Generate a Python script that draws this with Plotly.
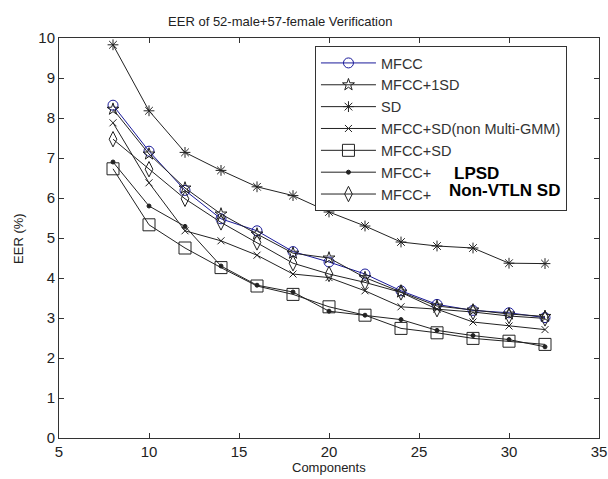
import plotly.graph_objects as go

components = [8, 10, 12, 14, 16, 18, 20, 22, 24, 26, 28, 30, 32]

mfcc = [8.32, 7.17, 6.19, 5.48, 5.18, 4.66, 4.40, 4.10, 3.68, 3.34, 3.19, 3.13, 3.01]
mfcc_1sd = [8.22, 7.10, 6.25, 5.60, 5.10, 4.62, 4.50, 4.01, 3.65, 3.30, 3.20, 3.10, 3.04]
sd = [9.83, 8.18, 7.14, 6.69, 6.28, 6.06, 5.65, 5.30, 4.90, 4.80, 4.75, 4.37, 4.36]
mfcc_sd_non = [7.88, 6.38, 5.18, 4.93, 4.57, 4.10, 4.01, 3.68, 3.28, 3.22, 2.90, 2.80, 2.71]
mfcc_sd = [6.73, 5.33, 4.75, 4.26, 3.80, 3.59, 3.28, 3.07, 2.74, 2.63, 2.49, 2.42, 2.34]
mfcc_lpsd = [6.90, 5.80, 5.29, 4.30, 3.82, 3.65, 3.17, 3.07, 2.96, 2.69, 2.56, 2.46, 2.28]
mfcc_nonvtln = [7.47, 6.72, 5.98, 5.39, 4.89, 4.37, 4.10, 3.89, 3.64, 3.22, 3.15, 3.05, 2.99]

title = "EER of 52-male+57-female Verification"
x_label = "Components"
y_label = "EER (%)"
x_ticks = [5, 10, 15, 20, 25, 30, 35]
y_ticks = list(range(0, 11))

BLK = "#222222"
series = [
    ("MFCC", mfcc, "#1a1a9a", "circle-open", 10),
    ("MFCC+1SD", mfcc_1sd, BLK, "star-open", 9),
    ("SD", sd, BLK, "asterisk-open", 9),
    ("MFCC+SD(non Multi-GMM)", mfcc_sd_non, BLK, "x-thin-open", 7),
    ("MFCC+SD", mfcc_sd, BLK, "square-open", 12),
    ("MFCC+", mfcc_lpsd, BLK, "circle", 4),
    ("MFCC+ ", mfcc_nonvtln, BLK, "diamond-tall-open", 11),
]

fig = go.Figure()
for name, ys, col, sym, sz in series:
    fig.add_trace(go.Scatter(
        x=components, y=ys, name=name, mode="lines+markers",
        line=dict(color=col, width=1),
        marker=dict(symbol=sym, size=sz, color=col, line=dict(color=col, width=1)),
    ))

fig.update_layout(
    width=608, height=479,
    paper_bgcolor="white", plot_bgcolor="white",
    margin=dict(l=59, r=9, t=38, b=41, autoexpand=False),
    font=dict(family="Liberation Sans, Arial", size=15, color="#222"),
    title=dict(text=title, x=0.461, xanchor="center", y=0.956, yanchor="middle",
               font=dict(size=13, color="#222")),
    showlegend=True,
    legend=dict(x=0.474, y=0.98, xanchor="left", yanchor="top",
                bgcolor="white", bordercolor="#333", borderwidth=1,
                font=dict(size=14.5, color="#333"), itemwidth=55,
                tracegroupgap=0),
)
fig.update_xaxes(range=[5, 35], tickvals=x_ticks, ticks="inside", ticklen=5,
                 showline=True, linecolor="#333", linewidth=1, mirror="ticks",
                 showgrid=False, zeroline=False, tickcolor="#333", automargin=False)
fig.update_yaxes(range=[0, 10], tickvals=y_ticks, ticks="inside", ticklen=5,
                 showline=True, linecolor="#333", linewidth=1, mirror="ticks",
                 showgrid=False, zeroline=False, tickcolor="#333", automargin=False)

fig.add_annotation(x=0.5, y=-0.0725, xref="paper", yref="paper", text=x_label,
                   showarrow=False, font=dict(size=13, color="#222"),
                   xanchor="center", yanchor="middle")
fig.add_annotation(x=-0.076, y=0.5, xref="paper", yref="paper", text=y_label,
                   showarrow=False, font=dict(size=13, color="#222"), textangle=-90,
                   xanchor="center", yanchor="middle")
fig.add_annotation(x=0.728, y=0.6625, xref="paper", yref="paper", text="<b>LPSD</b>",
                   showarrow=False, font=dict(size=17, color="black"),
                   xanchor="left", yanchor="middle")
fig.add_annotation(x=0.7185, y=0.6175, xref="paper", yref="paper", text="<b>Non-VTLN SD</b>",
                   showarrow=False, font=dict(size=17, color="black"),
                   xanchor="left", yanchor="middle")
fig.write_html("out.html", config={"displayModeBar": False})

# remove the default page margin so the figure sits at the top-left corner
with open("out.html", encoding="utf-8") as f:
    html = f.read()
html = html.replace("<body>", '<body style="margin:0;overflow:hidden">', 1)
with open("out.html", "w", encoding="utf-8") as f:
    f.write(html)
